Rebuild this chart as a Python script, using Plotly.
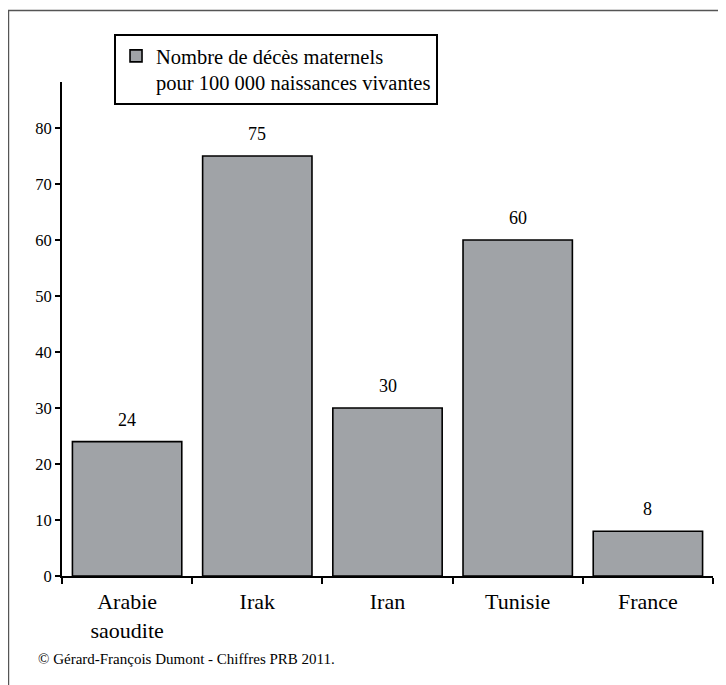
import plotly.graph_objects as go

categories = ["Arabie<br>saoudite", "Irak", "Iran", "Tunisie", "France"]
values = [24, 75, 30, 60, 8]
series_name = "Nombre de décès maternels<br>pour 100 000 naissances vivantes"
y_ticks = [0, 10, 20, 30, 40, 50, 60, 70, 80]
source = "© Gérard-François Dumont - Chiffres PRB 2011."

# the page body adds an 8px offset; screen coordinates below are converted
OFF = 8
W, H = 726, 685
PLOT_X0, PLOT_X1 = 62, 712.7   # screen px
PLOT_Y0, PLOT_Y1 = 82, 576     # screen px
L = PLOT_X0 - OFF
T = PLOT_Y0 - OFF
pw = PLOT_X1 - PLOT_X0
ph = PLOT_Y1 - PLOT_Y0
R = W - L - pw
B = H - T - ph

def px_x(x):
    return (x - PLOT_X0) / pw

def px_y(y):
    return (PLOT_Y1 - y) / ph

FONT = "Liberation Serif"

fig = go.Figure()
fig.add_trace(go.Bar(
    x=categories, y=values, name=series_name,
    marker=dict(color="#a0a3a7", line=dict(color="black", width=1.6)),
    showlegend=True,
))

label_annotations = [
    dict(x=c, y=v, xref="x", yref="y", text=str(v), showarrow=False,
         xanchor="center", yanchor="bottom", yshift=10,
         font=dict(family=FONT, size=18, color="black"))
    for c, v in zip(categories, values)
]

fig.update_layout(
    width=W, height=H,
    margin=dict(l=L, r=R, t=T, b=B, pad=0, autoexpand=False),
    paper_bgcolor="white", plot_bgcolor="white",
    font=dict(family=FONT, color="black"),
    bargap=0.16,
    showlegend=True,
    legend=dict(
        x=px_x(114), y=px_y(34), xanchor="left", yanchor="top",
        bordercolor="black", borderwidth=2, bgcolor="white",
        font=dict(family=FONT, size=20.5, color="black"),
        valign="top", itemwidth=30,
    ),
    xaxis=dict(
        type="category", tickson="boundaries",
        showline=True, linecolor="black", linewidth=2,
        ticks="outside", ticklen=6, tickcolor="black", tickwidth=1.5,
        tickfont=dict(family=FONT, size=22, color="black"),
        ticklabelstandoff=5,
        showgrid=False, zeroline=False, automargin=False,
    ),
    yaxis=dict(
        range=[0, 88.2], tickvals=y_ticks,
        showline=True, linecolor="black", linewidth=2,
        ticks="outside", ticklen=5, tickcolor="black", tickwidth=1.5,
        tickfont=dict(family=FONT, size=16.5, color="black"),
        showgrid=False, zeroline=False, automargin=False,
    ),
    shapes=[dict(
        type="rect", xref="paper", yref="paper",
        x0=px_x(8.5), x1=px_x(760), y0=px_y(720), y1=px_y(10.5),
        line=dict(color="#555555", width=1.5), fillcolor="rgba(0,0,0,0)",
        layer="below",
    )],
    annotations=label_annotations + [dict(
        text=source, xref="paper", yref="paper",
        x=px_x(36), y=px_y(659), xanchor="left", yanchor="middle",
        showarrow=False, font=dict(family=FONT, size=15, color="black"),
    )],
)

fig.write_html("out.html")
